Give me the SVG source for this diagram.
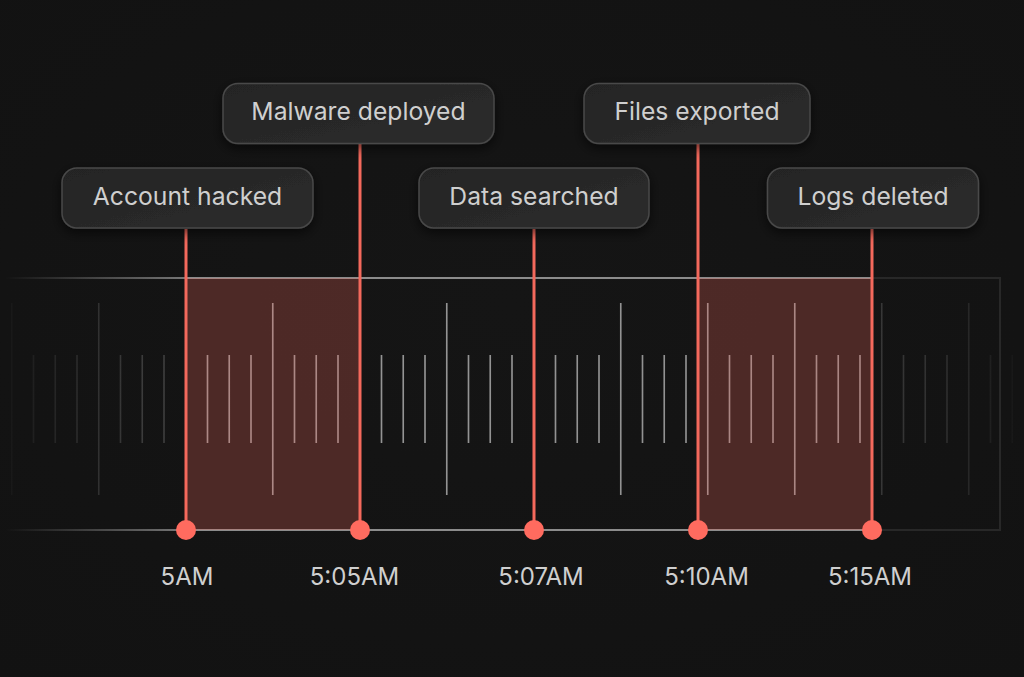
<svg xmlns="http://www.w3.org/2000/svg" width="1024" height="677" viewBox="0 0 1024 677">
  <style>
    .lbl { font-family: Inter, "Liberation Sans", sans-serif; font-size: 24px; fill: #cfcfcf; text-anchor: middle; }
    .big { font-size: 24.7px; }
    .box { fill: url(#boxGrad); stroke: #484848; stroke-width: 1.5; filter: url(#shadow); }
    .red { stroke: #f4695c; stroke-width: 3; fill: none; }
    .dot { fill: #ff6b5f; }
    .shade { fill: #f4695c; fill-opacity: 0.26; }
  </style>
  <defs>
    <linearGradient id="boxGrad" x1="0" y1="0" x2="1" y2="1">
      <stop offset="0" stop-color="#242424"/>
      <stop offset="1" stop-color="#2c2c2c"/>
    </linearGradient>
    <linearGradient id="dimGrad" gradientUnits="userSpaceOnUse" x1="0" y1="0" x2="1024" y2="0">
      <stop offset="0" stop-color="#fff" stop-opacity="0.01"/>
      <stop offset="0.03" stop-color="#fff" stop-opacity="0.05"/>
      <stop offset="0.1" stop-color="#fff" stop-opacity="0.13"/>
      <stop offset="0.15" stop-color="#fff" stop-opacity="0.18"/>
      <stop offset="0.86" stop-color="#fff" stop-opacity="0.15"/>
      <stop offset="0.92" stop-color="#fff" stop-opacity="0.12"/>
      <stop offset="0.95" stop-color="#fff" stop-opacity="0.08"/>
      <stop offset="0.97" stop-color="#fff" stop-opacity="0.05"/>
      <stop offset="1" stop-color="#fff" stop-opacity="0.01"/>
    </linearGradient>
    <linearGradient id="edgeGrad" gradientUnits="userSpaceOnUse" x1="5" y1="0" x2="186" y2="0">
      <stop offset="0" stop-color="#fff" stop-opacity="0"/>
      <stop offset="1" stop-color="#fff" stop-opacity="0.42"/>
    </linearGradient>
    <clipPath id="mid"><rect x="186" y="0" width="686" height="677"/></clipPath>
    <filter id="shadow" x="-20%" y="-40%" width="140%" height="190%">
      <feDropShadow dx="0" dy="4" stdDeviation="6" flood-color="#000" flood-opacity="0.6"/>
    </filter>
    <radialGradient id="bgGrad" cx="0.5" cy="0.45" r="0.75">
      <stop offset="0" stop-color="#151515"/>
      <stop offset="1" stop-color="#121212"/>
    </radialGradient>
    <path id="ticks" d="M33.5 355V443M55.25 355V443M77 355V443M120.5 355V443M142.25 355V443M164 355V443M207.5 355V443M229.25 355V443M251 355V443M294.5 355V443M316.25 355V443M338 355V443M381.5 355V443M403.25 355V443M425 355V443M468.5 355V443M490.25 355V443M512 355V443M555.5 355V443M577.25 355V443M599 355V443M642.5 355V443M664.25 355V443M686 355V443M729.5 355V443M751.25 355V443M773 355V443M816.5 355V443M838.25 355V443M860 355V443M903.5 355V443M925.25 355V443M947 355V443M990.5 355V443M1012.25 355V443M11.75 303V495M98.75 303V495M272.75 303V495M446.75 303V495M620.75 303V495M707.75 303V495M794.75 303V495M881.75 303V495M968.75 303V495"/>
  </defs>

  <rect width="1024" height="677" fill="url(#bgGrad)"/>

  <g id="timeline">
    <use href="#ticks" stroke="url(#dimGrad)" stroke-width="1.6" fill="none"/>
    <use href="#ticks" stroke="#ffffff" stroke-opacity="0.45" stroke-width="1.6" fill="none" clip-path="url(#mid)"/>
    <line x1="5" y1="278" x2="186" y2="278" stroke="url(#edgeGrad)" stroke-width="2"/>
    <line x1="5" y1="530" x2="186" y2="530" stroke="url(#edgeGrad)" stroke-width="2"/>
    <line x1="186" y1="278" x2="872" y2="278" stroke="#8c8c8c" stroke-width="2"/>
    <line x1="186" y1="530" x2="872" y2="530" stroke="#8c8c8c" stroke-width="2"/>
    <path d="M872 278H1000V530H872" fill="none" stroke="#282828" stroke-width="2"/>
    <rect class="shade" x="186" y="278" width="174" height="252"/>
    <rect class="shade" x="698" y="278" width="174" height="252"/>
  </g>

  <g id="connectors">
    <line class="red" x1="186" y1="229" x2="186" y2="530"/>
    <line class="red" x1="360" y1="144" x2="360" y2="530"/>
    <line class="red" x1="534" y1="229" x2="534" y2="530"/>
    <line class="red" x1="698" y1="144" x2="698" y2="530"/>
    <line class="red" x1="872" y1="229" x2="872" y2="530"/>
    <circle class="dot" cx="186" cy="530" r="10"/>
    <circle class="dot" cx="360" cy="530" r="10"/>
    <circle class="dot" cx="534" cy="530" r="10"/>
    <circle class="dot" cx="698" cy="530" r="10"/>
    <circle class="dot" cx="872" cy="530" r="10"/>
  </g>

  <g id="account-hacked">
    <rect class="box" x="62" y="168" width="251" height="60" rx="15"/>
    <text class="lbl big" x="187.5" y="205">Account hacked</text>
  </g>
  <g id="malware-deployed">
    <rect class="box" x="223" y="83.5" width="271" height="60" rx="15"/>
    <text class="lbl big" x="358.5" y="120">Malware deployed</text>
  </g>
  <g id="data-searched">
    <rect class="box" x="419" y="168" width="230" height="60" rx="15"/>
    <text class="lbl big" x="534" y="205">Data searched</text>
  </g>
  <g id="files-exported">
    <rect class="box" x="584" y="83.5" width="226" height="60" rx="15"/>
    <text class="lbl big" x="697" y="120">Files exported</text>
  </g>
  <g id="logs-deleted">
    <rect class="box" x="767.5" y="168" width="211" height="60" rx="15"/>
    <text class="lbl big" x="873" y="205">Logs deleted</text>
  </g>

  <g id="time-labels">
    <text class="lbl" x="187" y="585">5AM</text>
    <text class="lbl" x="354.5" y="585">5:05AM</text>
    <text class="lbl" x="541" y="585">5:07AM</text>
    <text class="lbl" x="706.5" y="585">5:10AM</text>
    <text class="lbl" x="870" y="585">5:15AM</text>
  </g>
</svg>
